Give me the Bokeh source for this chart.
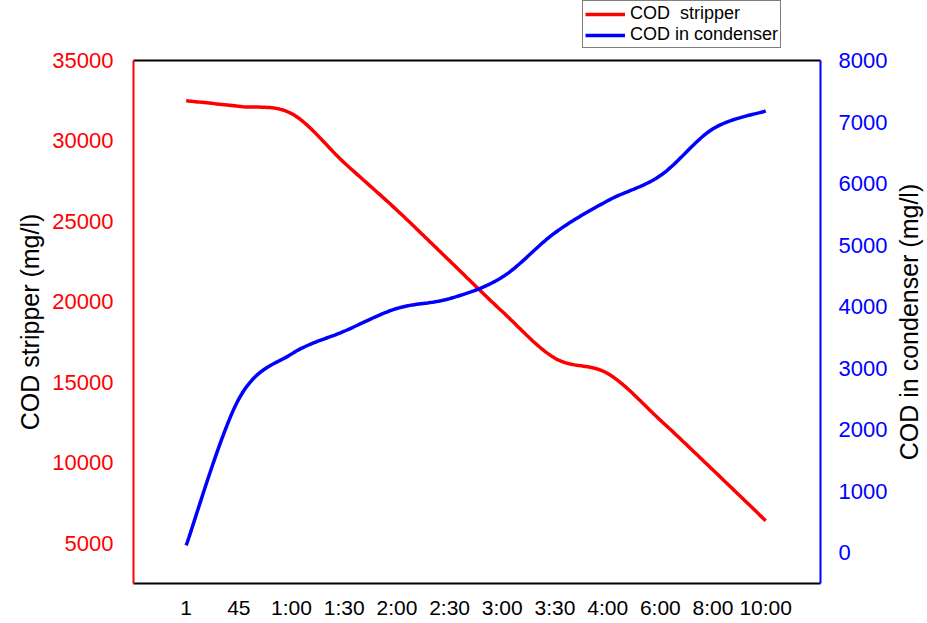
import numpy as np
from bokeh.plotting import figure
from bokeh.layouts import column, row
from bokeh.models import Range1d, LinearAxis, FixedTicker, Legend, LegendItem
from bokeh.embed import file_html
from bokeh.resources import INLINE

# ---- data ----
time_labels = ["1", "45", "1:00", "1:30", "2:00", "2:30", "3:00", "3:30", "4:00", "6:00", "8:00", "10:00"]
cod_stripper = [32500, 32150, 31700, 28650, 25700, 22550, 19400, 16500, 15550, 12650, 9550, 6400]
cod_condenser = [120, 2500, 3230, 3600, 3970, 4130, 4480, 5200, 5720, 6130, 6890, 7180]
left_ticks = [5000, 10000, 15000, 20000, 25000, 30000, 35000]
right_ticks = [0, 1000, 2000, 3000, 4000, 5000, 6000, 7000, 8000]
series_names = ["COD  stripper", "COD in condenser"]
series_colors = ["#ff0000", "#0000ff"]
left_title = "COD stripper (mg/l)"
right_title = "COD in condenser (mg/l)"

FONT = "Liberation Sans"
x_pos = list(range(1, len(time_labels) + 1))


def smooth(xs, ys, n=24):
    """Excel-style smoothed line (cubic Bezier through every data point)."""
    P = np.column_stack([np.asarray(xs, float), np.asarray(ys, float)])
    pad = np.vstack([P[0], P, P[-1]])
    out = []
    m = len(P) - 1
    for i in range(m):
        p0, p1, p2, p3 = pad[i], pad[i + 1], pad[i + 2], pad[i + 3]
        c1 = p1 + (p2 - p0) / 6.0
        c2 = p2 - (p3 - p1) / 6.0
        t = np.linspace(0, 1, n, endpoint=(i == m - 1))[:, None]
        seg = ((1 - t) ** 3) * p1 + 3 * ((1 - t) ** 2) * t * c1 + 3 * (1 - t) * t * t * c2 + (t ** 3) * p2
        out.append(seg)
    S = np.vstack(out)
    return S[:, 0], S[:, 1]


def clean(fig):
    fig.xgrid.visible = False
    fig.ygrid.visible = False
    fig.outline_line_color = None
    fig.border_fill_color = "white"
    fig.background_fill_color = "white"


def plain(ax):
    ax.major_tick_line_color = None
    ax.minor_tick_line_color = None
    ax.major_tick_out = 0
    ax.major_tick_in = 0
    ax.minor_tick_out = 0
    ax.minor_tick_in = 0
    ax.axis_line_width = 2


TOP_STRIP = 48
MAIN_H = 623 - TOP_STRIP
MAIN_TOP = 60 - TOP_STRIP

# ---------- legend strip (top of the page) ----------
lg = figure(width=927, height=TOP_STRIP, output_backend="svg", toolbar_location=None,
            x_range=Range1d(0, 1), y_range=Range1d(0, 1),
            x_axis_location=None, y_axis_location=None,
            min_border_left=133, min_border_right=105, min_border_top=0, min_border_bottom=0)
clean(lg)
swatches = [lg.line(x_pos, vals, line_color=c, line_width=3.5)
            for vals, c in zip([cod_stripper, cod_condenser], series_colors)]
legend = Legend(items=[LegendItem(label=n, renderers=[r]) for n, r in zip(series_names, swatches)],
                location=(449, 0), orientation="vertical")
legend.label_text_font = FONT
legend.label_text_font_size = "18px"
legend.label_text_color = "black"
legend.glyph_width = 40
legend.glyph_height = 20
legend.label_height = 20
legend.label_standoff = 5
legend.padding = 2
legend.spacing = 0
legend.margin = 0
legend.border_line_color = "black"
legend.border_line_width = 1
legend.background_fill_color = "white"
legend.background_fill_alpha = 1
lg.add_layout(legend, "center")

# ---------- main chart ----------
p = figure(width=890, height=MAIN_H, output_backend="svg", toolbar_location=None,
           x_range=Range1d(0, 13.04), y_range=Range1d(2500, 35000),
           min_border_left=133, min_border_right=68, min_border_top=MAIN_TOP, min_border_bottom=40)
p.extra_y_ranges = {"cond": Range1d(-500, 8000)}
clean(p)

# bottom axis
xa = p.xaxis[0]
plain(xa)
xa.ticker = FixedTicker(ticks=x_pos)
xa.major_label_overrides = {i: lab for i, lab in zip(x_pos, time_labels)}
xa.axis_line_color = "black"
xa.major_label_text_font = FONT
xa.major_label_text_font_size = "21px"
xa.major_label_text_color = "black"
xa.major_label_standoff = 12

# left axis
ya = p.yaxis[0]
plain(ya)
ya.ticker = FixedTicker(ticks=left_ticks)
ya.axis_line_color = "#ff0000"
ya.major_label_text_font = FONT
ya.major_label_text_font_size = "22px"
ya.major_label_text_color = "#ff0000"
ya.major_label_standoff = 20
ya.axis_label = left_title
ya.axis_label_text_font = FONT
ya.axis_label_text_font_size = "25px"
ya.axis_label_text_font_style = "normal"
ya.axis_label_text_color = "black"
ya.axis_label_standoff = 5

# right axis (ticks only; its title is drawn in the narrow strip to the right)
ra = LinearAxis(y_range_name="cond", ticker=FixedTicker(ticks=right_ticks))
plain(ra)
ra.axis_line_color = "#0000ff"
ra.major_label_text_font = FONT
ra.major_label_text_font_size = "22px"
ra.major_label_text_color = "#0000ff"
ra.major_label_standoff = 18
p.add_layout(ra, "right")

# top border
ta = LinearAxis(ticker=FixedTicker(ticks=[]))
plain(ta)
ta.axis_line_color = "black"
ta.major_label_text_font_size = "0px"
ta.major_label_standoff = 0
p.add_layout(ta, "above")

# lines
sx, sy = smooth(x_pos, cod_stripper)
p.line(sx, sy, line_color=series_colors[0], line_width=3.5)
cx, cy = smooth(x_pos, cod_condenser)
p.line(cx, cy, line_color=series_colors[1], line_width=3.5, y_range_name="cond")

# ---------- right title strip (reads bottom to top, like the reference) ----------
rt = figure(width=37, height=MAIN_H, output_backend="svg", toolbar_location=None,
            x_range=Range1d(0, 1), y_range=Range1d(-500, 8000),
            x_axis_location=None, y_axis_location="left",
            min_border_left=36, min_border_right=0, min_border_top=MAIN_TOP, min_border_bottom=40)
clean(rt)
rax = rt.yaxis[0]
plain(rax)
rax.ticker = FixedTicker(ticks=[])
rax.axis_line_color = None
rax.major_label_text_font_size = "0px"
rax.major_label_standoff = 0
rax.axis_label = right_title
rax.axis_label_text_font = FONT
rax.axis_label_text_font_size = "25px"
rax.axis_label_text_font_style = "normal"
rax.axis_label_text_color = "black"
rax.axis_label_standoff = 4

layout = column(lg, row(p, rt, spacing=0), spacing=0)
open("out.html", "w").write(file_html(layout, INLINE))
